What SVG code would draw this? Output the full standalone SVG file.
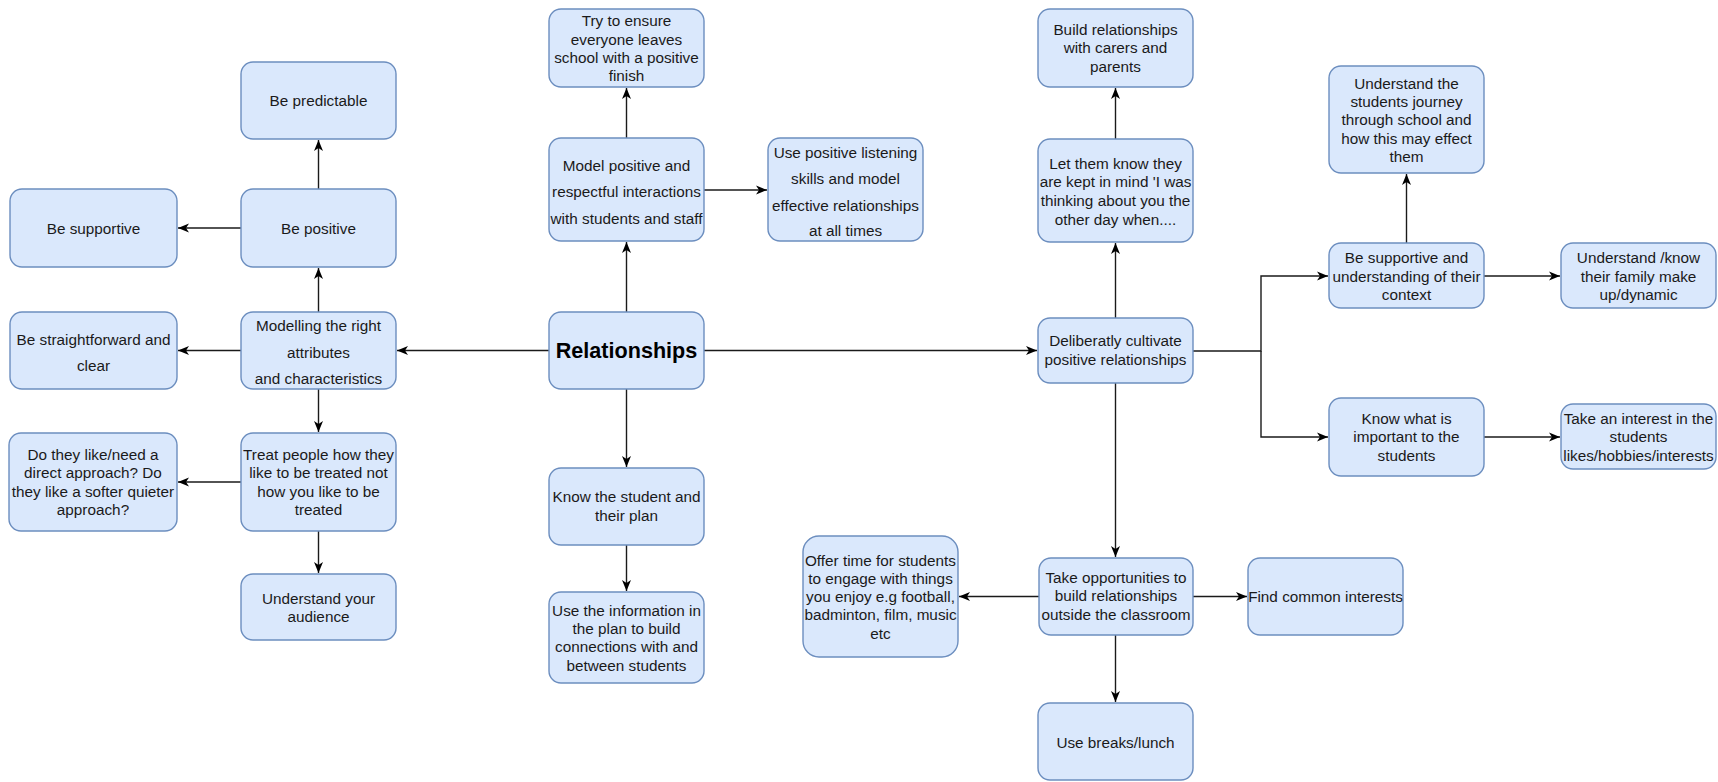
<svg xmlns="http://www.w3.org/2000/svg" width="1718" height="782" viewBox="0 0 1718 782">
<style>
.n rect{fill:#dae8fc;stroke:#6c8ebf;stroke-width:1.4}
.n text{font-family:"Liberation Sans",Arial,sans-serif;font-size:15.3px;fill:#1a1a1a;text-anchor:middle}
.n text.big{font-size:21.6px;font-weight:bold;fill:#000}
#edges path{fill:none;stroke:#1a1a1a;stroke-width:1.4;marker-end:url(#arr)}
#edges path.nm{marker-end:none}
</style>
<defs>
<marker id="arr" markerUnits="userSpaceOnUse" markerWidth="12" markerHeight="12" viewBox="0 0 12 12" refX="11" refY="6" orient="auto">
<path d="M0,1.5 L11,6 L0,10.5 L3,6 z" fill="#000" stroke="none"/>
</marker>
</defs>
<rect width="1718" height="782" fill="#fff"/>
<g id="edges">
<path d="M549,350.5 H397"/>
<path d="M704,350.5 H1037"/>
<path d="M626.5,312 V242"/>
<path d="M626.5,389 V467"/>
<path d="M626.5,545 V591"/>
<path d="M626.5,138 V88"/>
<path d="M704,190 H767"/>
<path d="M318.5,312 V268"/>
<path d="M241,350.5 H178"/>
<path d="M318.5,389 V432"/>
<path d="M318.5,189 V140"/>
<path d="M241,228 H178"/>
<path d="M241,482 H178"/>
<path d="M318.5,531 V573"/>
<path d="M1115.5,318 V243"/>
<path d="M1115.5,139 V88"/>
<path d="M1193,351 H1261 V276 H1328"/>
<path d="M1261,351 V437 H1328"/>
<path d="M1406.5,243 V174"/>
<path d="M1484,276 H1560"/>
<path d="M1484,437 H1560"/>
<path d="M1115.5,383 V557"/>
<path d="M1039,596.5 H959"/>
<path d="M1193,596.5 H1247"/>
<path d="M1115.5,635 V702"/>
</g>
<g id="n1" class="n"><rect x="241" y="62" width="155" height="77" rx="12"/><text x="318.5" y="106.2">Be predictable</text></g>
<g id="n2" class="n"><rect x="10" y="189" width="167" height="78" rx="12"/><text x="93.5" y="233.8">Be supportive</text></g>
<g id="n3" class="n"><rect x="241" y="189" width="155" height="78" rx="12"/><text x="318.5" y="233.5">Be positive</text></g>
<g id="n4" class="n"><rect x="241" y="312" width="155" height="77" rx="12"/><text><tspan x="318.5" y="331.2">Modelling the right</tspan><tspan x="318.5" y="357.5">attributes</tspan><tspan x="318.5" y="383.8">and characteristics</tspan></text></g>
<g id="n5" class="n"><rect x="10" y="312" width="167" height="77" rx="12"/><text><tspan x="93.5" y="344.8">Be straightforward and</tspan><tspan x="93.5" y="371.2">clear</tspan></text></g>
<g id="n6" class="n"><rect x="9" y="433" width="168" height="98" rx="12"/><text><tspan x="93" y="459.8">Do they like/need a</tspan><tspan x="93" y="478.2">direct approach? Do</tspan><tspan x="93" y="496.6">they like a softer quieter</tspan><tspan x="93" y="515">approach?</tspan></text></g>
<g id="n7" class="n"><rect x="241" y="433" width="155" height="98" rx="12"/><text><tspan x="318.5" y="459.8">Treat people how they</tspan><tspan x="318.5" y="478.2">like to be treated not</tspan><tspan x="318.5" y="496.6">how you like to be</tspan><tspan x="318.5" y="515">treated</tspan></text></g>
<g id="n8" class="n"><rect x="241" y="574" width="155" height="66" rx="12"/><text><tspan x="318.5" y="603.8">Understand your</tspan><tspan x="318.5" y="622.2">audience</tspan></text></g>
<g id="n9" class="n"><rect x="549" y="9" width="155" height="78" rx="12"/><text><tspan x="626.5" y="26.2">Try to ensure</tspan><tspan x="626.5" y="44.5">everyone leaves</tspan><tspan x="626.5" y="62.8">school with a positive</tspan><tspan x="626.5" y="81.1">finish</tspan></text></g>
<g id="n10" class="n"><rect x="549" y="138" width="155" height="103" rx="12"/><text><tspan x="626.5" y="170.5">Model positive and</tspan><tspan x="626.5" y="197.2">respectful interactions</tspan><tspan x="626.5" y="223.8">with students and staff</tspan></text></g>
<g id="n11" class="n"><rect x="768" y="138" width="155" height="103" rx="12"/><text><tspan x="845.5" y="158.2">Use positive listening</tspan><tspan x="845.5" y="183.8">skills and model</tspan><tspan x="845.5" y="210.5">effective relationships</tspan><tspan x="845.5" y="236.2">at all times</tspan></text></g>
<g id="n12" class="n"><rect x="549" y="312" width="155" height="77" rx="12"/><text class="big" x="626.5" y="357.7">Relationships</text></g>
<g id="n13" class="n"><rect x="549" y="468" width="155" height="77" rx="12"/><text><tspan x="626.5" y="502.2">Know the student and</tspan><tspan x="626.5" y="520.5">their plan</tspan></text></g>
<g id="n14" class="n"><rect x="549" y="592" width="155" height="91" rx="12"/><text><tspan x="626.5" y="615.5">Use the information in</tspan><tspan x="626.5" y="633.8">the plan to build</tspan><tspan x="626.5" y="652.2">connections with and</tspan><tspan x="626.5" y="670.5">between students</tspan></text></g>
<g id="n15" class="n"><rect x="1038" y="9" width="155" height="78" rx="12"/><text><tspan x="1115.5" y="34.8">Build relationships</tspan><tspan x="1115.5" y="53.2">with carers and</tspan><tspan x="1115.5" y="71.5">parents</tspan></text></g>
<g id="n16" class="n"><rect x="1038" y="139" width="155" height="103" rx="12"/><text><tspan x="1115.5" y="168.8">Let them know they</tspan><tspan x="1115.5" y="187.4">are kept in mind 'I was</tspan><tspan x="1115.5" y="206">thinking about you the</tspan><tspan x="1115.5" y="224.6">other day when....</tspan></text></g>
<g id="n17" class="n"><rect x="1038" y="318" width="155" height="65" rx="12"/><text><tspan x="1115.5" y="346.2">Deliberatly cultivate</tspan><tspan x="1115.5" y="364.8">positive relationships</tspan></text></g>
<g id="n18" class="n"><rect x="1329" y="66" width="155" height="107" rx="12"/><text><tspan x="1406.5" y="88.8">Understand the</tspan><tspan x="1406.5" y="107.1">students journey</tspan><tspan x="1406.5" y="125.4">through school and</tspan><tspan x="1406.5" y="143.7">how this may effect</tspan><tspan x="1406.5" y="162">them</tspan></text></g>
<g id="n19" class="n"><rect x="1329" y="243" width="155" height="65" rx="12"/><text><tspan x="1406.5" y="263.2">Be supportive and</tspan><tspan x="1406.5" y="281.5">understanding of their</tspan><tspan x="1406.5" y="299.8">context</tspan></text></g>
<g id="n20" class="n"><rect x="1561" y="243" width="155" height="65" rx="12"/><text><tspan x="1638.5" y="263.2">Understand /know</tspan><tspan x="1638.5" y="281.5">their family make</tspan><tspan x="1638.5" y="299.8">up/dynamic</tspan></text></g>
<g id="n21" class="n"><rect x="1329" y="398" width="155" height="78" rx="12"/><text><tspan x="1406.5" y="423.8">Know what is</tspan><tspan x="1406.5" y="442.2">important to the</tspan><tspan x="1406.5" y="460.6">students</tspan></text></g>
<g id="n22" class="n"><rect x="1561" y="404" width="155" height="65" rx="12"/><text><tspan x="1638.5" y="423.8">Take an interest in the</tspan><tspan x="1638.5" y="442.2">students</tspan><tspan x="1638.5" y="460.6">likes/hobbies/interests</tspan></text></g>
<g id="n23" class="n"><rect x="803" y="536" width="155" height="121" rx="16"/><text><tspan x="880.5" y="565.5">Offer time for students</tspan><tspan x="880.5" y="583.8">to engage with things</tspan><tspan x="880.5" y="602.1">you enjoy e.g football,</tspan><tspan x="880.5" y="620.4">badminton, film, music</tspan><tspan x="880.5" y="638.7">etc</tspan></text></g>
<g id="n24" class="n"><rect x="1039" y="558" width="154" height="77" rx="12"/><text><tspan x="1116" y="583">Take opportunities to</tspan><tspan x="1116" y="601.4">build relationships</tspan><tspan x="1116" y="619.8">outside the classroom</tspan></text></g>
<g id="n25" class="n"><rect x="1248" y="558" width="155" height="77" rx="12"/><text x="1325.5" y="601.5">Find common interests</text></g>
<g id="n26" class="n"><rect x="1038" y="703" width="155" height="77" rx="12"/><text x="1115.5" y="747.5">Use breaks/lunch</text></g>
</svg>
